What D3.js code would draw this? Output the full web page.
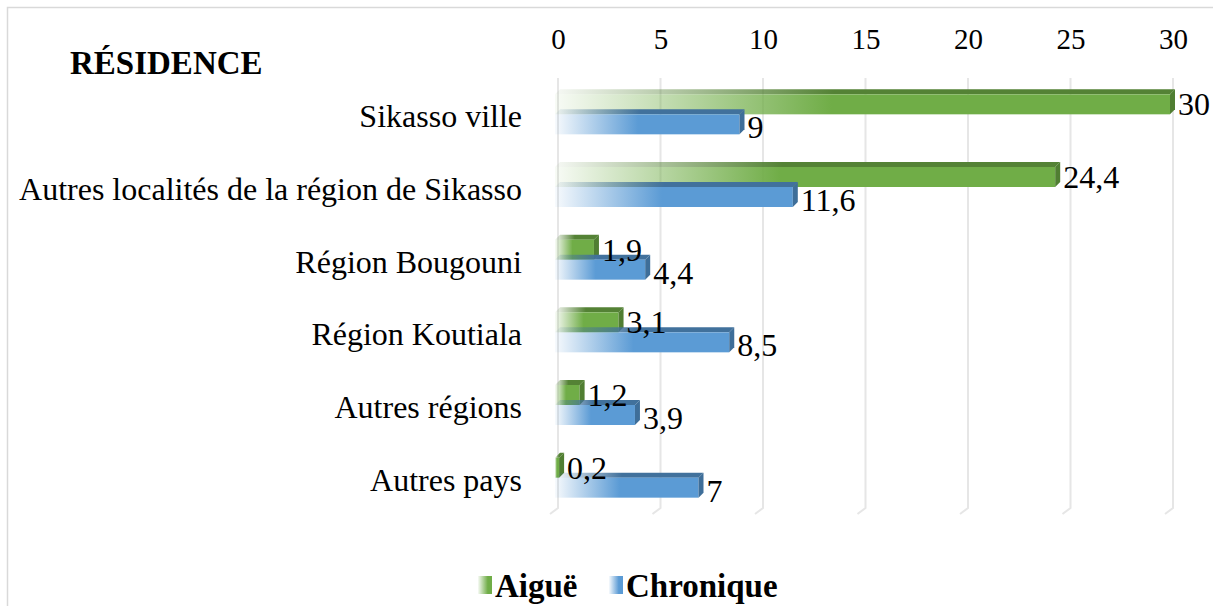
<!DOCTYPE html>
<html>
<head>
<meta charset="utf-8">
<title>Résidence</title>
<script src="https://cdn.jsdelivr.net/npm/d3@7"></script>
<style>
  body { margin: 0; background: #ffffff; }
  svg { display: block; }
</style>
</head>
<body>
<script>
// ---- data ----
var categories = ["Sikasso ville", "Autres localités de la région de Sikasso", "Région Bougouni",
                  "Région Koutiala", "Autres régions", "Autres pays"];
var aigue     = [30, 24.4, 1.9, 3.1, 1.2, 0.2];
var chronique = [9, 11.6, 4.4, 8.5, 3.9, 7];
var ticks = [0, 5, 10, 15, 20, 25, 30];
var seriesNames = ["Aiguë", "Chronique"];

var W = 1213, H = 606;
var depth = 5;      // 3d offset
var barH = 20;
var serif = "'Liberation Serif'";

var svg = d3.select("body").append("svg").attr("width", W).attr("height", H);

// gradients
var defs = svg.append("defs");
function grad(id, col, stop) {
  var g = defs.append("linearGradient").attr("id", id)
    .attr("x1", 0).attr("x2", 1).attr("y1", 0).attr("y2", 0);
  g.append("stop").attr("offset", 0).attr("stop-color", col).attr("stop-opacity", 0.05);
  g.append("stop").attr("offset", stop).attr("stop-color", col).attr("stop-opacity", 1);
  g.append("stop").attr("offset", 1).attr("stop-color", col).attr("stop-opacity", 1);
}
grad("gGreen", "#70ad47", 0.45);
grad("gGreenTop", "#548235", 0.45);
grad("gBlue", "#5b9bd5", 0.45);
grad("gBlueTop", "#41719c", 0.45);
grad("gGreenLeg", "#70ad47", 0.7);
grad("gBlueLeg", "#5b9bd5", 0.7);

// outer border
svg.append("rect").attr("x", 7.5).attr("y", 7.5).attr("width", W + 20).attr("height", H + 20)
  .attr("fill", "none").attr("stroke", "#d9d9d9").attr("stroke-width", 1.5);

var x = d3.scaleLinear().domain([0, 30]).range([555, 1170]);
var y = d3.scaleBand().domain(categories).range([78, 514]).padding(0);

// gridlines with 3d floor foot
var grid = svg.append("g");
ticks.forEach(function(t) {
  var gx = x(t) + 3;
  grid.append("path")
    .attr("d", "M" + gx + ",78 L" + gx + ",508 L" + (gx - 8) + ",514")
    .attr("fill", "none").attr("stroke", "#e6e6e6").attr("stroke-width", 2);
});

// top axis
var axis = d3.axisTop(x).tickValues(ticks).tickSize(0).tickPadding(0);
var ax = svg.append("g").attr("transform", "translate(3,49)").call(axis);
ax.select(".domain").remove();
ax.selectAll("text").style("font-family", serif).style("font-size", "29px").attr("fill", "#000");

// title
svg.append("text").attr("x", 70).attr("y", 74)
  .style("font-family", serif).style("font-size", "33px").style("font-weight", "bold")
  .text("RÉSIDENCE");

// category labels
svg.append("g").selectAll("text").data(categories).enter().append("text")
  .attr("x", 522).attr("y", function(d) { return y(d) + y.bandwidth() / 2 + 13; })
  .attr("text-anchor", "end")
  .style("font-family", serif).style("font-size", "32px")
  .text(function(d) { return d; });

function fmt(v) { return String(v).replace(".", ","); }

function bar3d(g, x0, x1, yTop, fill, topFill, sideFill) {
  g.append("path")
    .attr("d", "M" + x0 + "," + yTop + " L" + (x0 + depth) + "," + (yTop - depth) +
               " L" + (x1 + depth) + "," + (yTop - depth) + " L" + x1 + "," + yTop + "Z")
    .attr("fill", topFill);
  g.append("rect").attr("x", x0).attr("y", yTop).attr("width", x1 - x0).attr("height", barH)
    .attr("fill", fill);
  g.append("path")
    .attr("d", "M" + x1 + "," + yTop + " L" + (x1 + depth) + "," + (yTop - depth) +
               " L" + (x1 + depth) + "," + (yTop + barH - depth) + " L" + x1 + "," + (yTop + barH) + "Z")
    .attr("fill", sideFill);
}

var bars = svg.append("g");
categories.forEach(function(c, i) {
  var cy = y(c) + y.bandwidth() / 2;
  var gA = bars.append("g");
  bar3d(gA, x(0), x(aigue[i]), cy - barH, "url(#gGreen)", "url(#gGreenTop)", "#507e32");
  var gC = bars.append("g");
  bar3d(gC, x(0), x(chronique[i]), cy, "url(#gBlue)", "url(#gBlueTop)", "#3e6e99");
});

// value labels
var labels = svg.append("g");
categories.forEach(function(c, i) {
  var cy = y(c) + y.bandwidth() / 2;
  labels.append("text").attr("x", x(aigue[i]) + 8).attr("y", cy + 1)
    .style("font-family", serif).style("font-size", "32px").text(fmt(aigue[i]));
  labels.append("text").attr("x", x(chronique[i]) + 8).attr("y", cy + 24)
    .style("font-family", serif).style("font-size", "32px").text(fmt(chronique[i]));
});

// legend
var leg = svg.append("g");
var legX = [478, 609];
var legFill = ["url(#gGreenLeg)", "url(#gBlueLeg)"];
seriesNames.forEach(function(s, i) {
  leg.append("rect").attr("x", legX[i]).attr("y", 576).attr("width", 14).attr("height", 18)
    .attr("fill", legFill[i]);
  leg.append("text").attr("x", legX[i] + 17).attr("y", 597)
    .style("font-family", serif).style("font-size", "33px").style("font-weight", "bold")
    .text(s);
});
</script>
</body>
</html>
